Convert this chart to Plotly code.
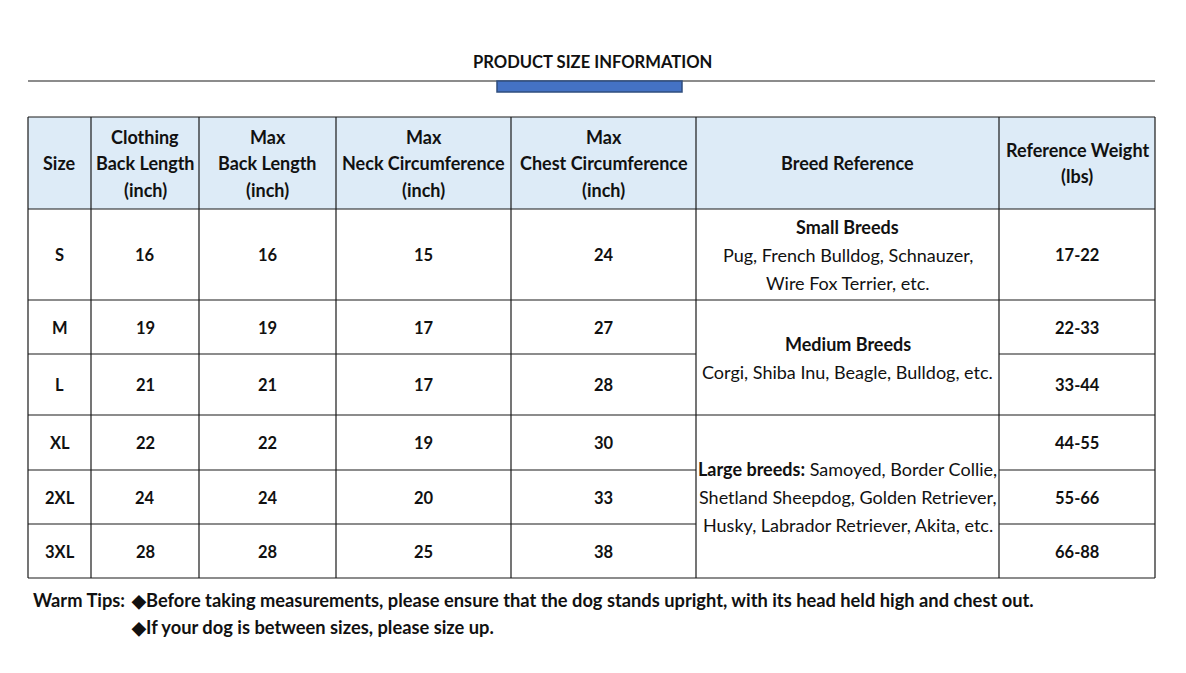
import plotly.graph_objects as go

# table data
headers = [
    ["Size"],
    ["Clothing", "Back Length", "(inch)"],
    ["Max", "Back Length", "(inch)"],
    ["Max", "Neck Circumference", "(inch)"],
    ["Max", "Chest Circumference", "(inch)"],
    ["Breed Reference"],
    ["Reference Weight", "(lbs)"],
]
sizes = ["S", "M", "L", "XL", "2XL", "3XL"]
clothing_back = [16, 19, 21, 22, 24, 28]
max_back = [16, 19, 21, 22, 24, 28]
max_neck = [15, 17, 17, 19, 20, 25]
max_chest = [24, 27, 28, 30, 33, 38]
weights = ["17-22", "22-33", "33-44", "44-55", "55-66", "66-88"]
breed_text = [
    ["<b>Small Breeds</b>", "Pug, French Bulldog, Schnauzer,", "Wire Fox Terrier, etc."],
    ["<b>Medium Breeds</b>", "Corgi, Shiba Inu, Beagle, Bulldog, etc."],
    ["<b>Large breeds:</b> Samoyed, Border Collie,", "Shetland Sheepdog, Golden Retriever,",
     "Husky, Labrador Retriever, Akita, etc."],
]
breed_span = [1, 2, 3]
title = "PRODUCT SIZE INFORMATION"
tips = ["◆Before taking measurements, please ensure that the dog stands upright, with its head held high and chest out.",
        "◆If your dog is between sizes, please size up."]

# layout (pixels)
W, H = 1186, 673
left, top = 28, 117
col_w = [63, 108, 137, 175, 185, 303, 156]
header_h = 92
row_h = [91, 54, 61, 55, 54, 54]
breed_col = 5
head_fill = "#DDEBF7"
line_col = "#1a1a1a"
ink = "#111111"
head_font = dict(family="Lato", size=18, color=ink)
num_font = dict(family="Lato", size=16.5, color=ink)
reg_font = dict(family="Lato", size=18, color=ink)
title_font = dict(family="Lato", size=16.6, color=ink)
tip_font = dict(family="Lato", size=18.3, color=ink)

xe = [left]
for w in col_w:
    xe.append(xe[-1] + w)
ye = [top, top + header_h]
for h in row_h:
    ye.append(ye[-1] + h)
right, bottom = xe[-1], ye[-1]

fig = go.Figure()
shapes = []
ann = []


def text_lines(cx, cy, lines, font, gap):
    n = len(lines)
    for i, t in enumerate(lines):
        ann.append(dict(x=cx, y=cy + (i - (n - 1) / 2) * gap, text=t, showarrow=False,
                        xanchor="center", yanchor="middle", font=font))


# header fill
shapes.append(dict(type="rect", x0=left, x1=right, y0=ye[0], y1=ye[1], fillcolor=head_fill,
                   line_width=0, layer="below"))

# horizontal lines, broken where the breed cell spans several rows
group_edges = [0]
for s in breed_span:
    group_edges.append(group_edges[-1] + s)
lw = dict(color=line_col, width=1.2)
for i, y in enumerate(ye):
    r = i - 1
    if r <= 0 or r in group_edges:
        shapes.append(dict(type="line", x0=left, x1=right, y0=y, y1=y, line=lw))
    else:
        shapes.append(dict(type="line", x0=left, x1=xe[breed_col], y0=y, y1=y, line=lw))
        shapes.append(dict(type="line", x0=xe[breed_col + 1], x1=right, y0=y, y1=y, line=lw))
for x in xe:
    shapes.append(dict(type="line", x0=x, x1=x, y0=top, y1=bottom, line=lw))

# header text
for c, lines in enumerate(headers):
    text_lines((xe[c] + xe[c + 1]) / 2, (ye[0] + ye[1]) / 2, ["<b>%s</b>" % t for t in lines], head_font, 26.5)

# body text
cols = [sizes, clothing_back, max_back, max_neck, max_chest, None, weights]
for c, vals in enumerate(cols):
    if vals is None:
        continue
    for r, v in enumerate(vals):
        text_lines((xe[c] + xe[c + 1]) / 2, (ye[r + 1] + ye[r + 2]) / 2 + 0.5, ["<b>%s</b>" % v], num_font, 26)

r0 = 0
for lines, span in zip(breed_text, breed_span):
    cy = (ye[r0 + 1] + ye[r0 + 1 + span]) / 2
    text_lines((xe[breed_col] + xe[breed_col + 1]) / 2, cy, lines, reg_font, 28)
    r0 += span

# title, rule and blue tab
ann.append(dict(x=W / 2 - 1, y=62, text="<b>%s</b>" % title, showarrow=False, xanchor="center",
                yanchor="middle", font=title_font))
shapes.append(dict(type="line", x0=left, x1=right, y0=81, y1=81, line=lw))
shapes.append(dict(type="rect", x0=497, x1=682, y0=81, y1=92, fillcolor="#4472C4",
                   line=dict(color="#2F4E7E", width=1.5)))

# tips
ann.append(dict(x=31, y=600, text="<b>Warm Tips:</b>", showarrow=False, xanchor="left",
                yanchor="middle", font=tip_font))
for i, t in enumerate(tips):
    ann.append(dict(x=129, y=600 + i * 27, text="<b>%s</b>" % t, showarrow=False, xanchor="left",
                    yanchor="middle", font=tip_font))

fig.update_layout(width=W, height=H, margin=dict(l=0, r=0, t=0, b=0),
                  paper_bgcolor="white", plot_bgcolor="white",
                  xaxis=dict(range=[0, W], visible=False, fixedrange=True),
                  yaxis=dict(range=[H, 0], visible=False, fixedrange=True),
                  shapes=shapes, annotations=ann, showlegend=False)
fig.write_html("out.html", config={"displayModeBar": False},
               post_script="document.body.style.margin='0';")
